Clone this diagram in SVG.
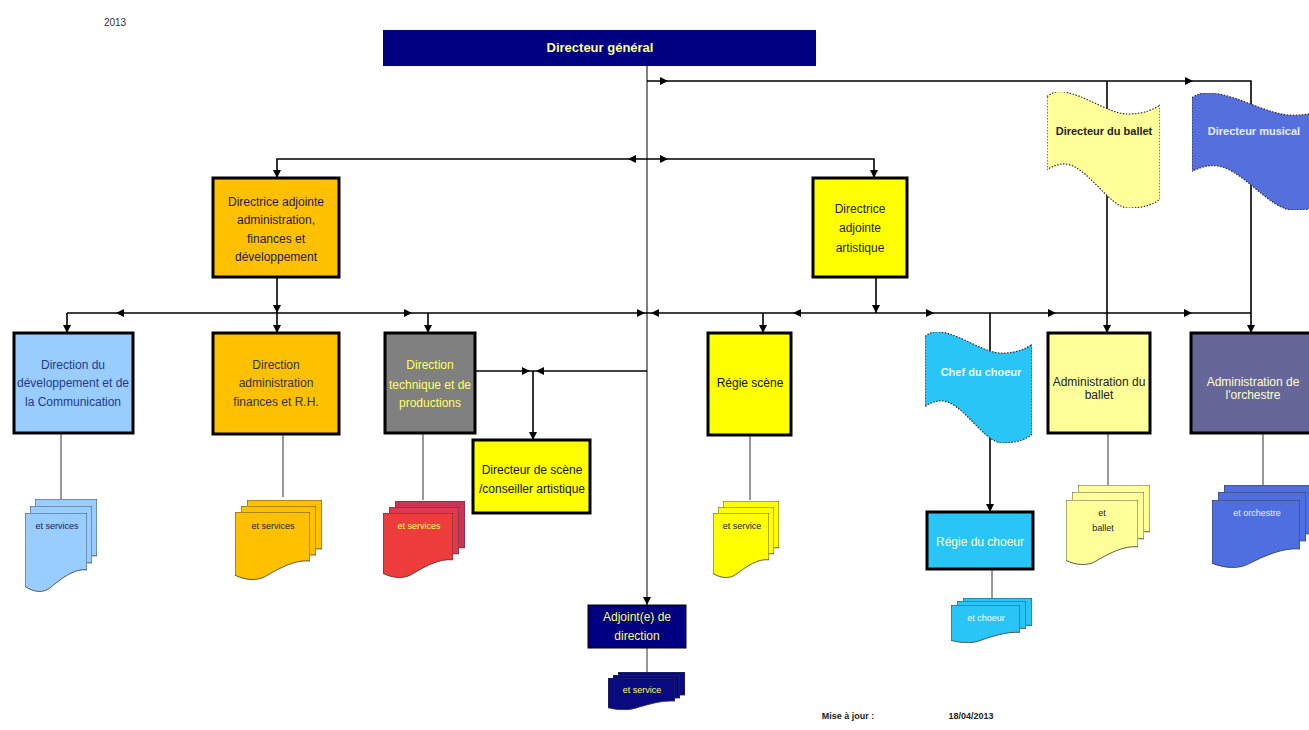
<svg xmlns="http://www.w3.org/2000/svg" xmlns:xlink="http://www.w3.org/1999/xlink" width="1309" height="730" viewBox="0 0 1309 730">
<style>
text{font-family:"Liberation Sans Narrow","Liberation Sans",Arial,sans-serif;text-anchor:middle}
.lbl{font-size:12px}
.b{font-weight:bold}
.box{stroke:#000;stroke-width:3}
.ln{stroke:#000;stroke-width:1.6;fill:none}
.thin{stroke:#333;stroke-width:1;fill:none}
.main{stroke:#7f7f7f;stroke-width:2;fill:none}
.doc{stroke:#333;stroke-width:0.8}
.flag{stroke:#333;stroke-width:1.2;stroke-dasharray:1.5 1.5}
.st{font-size:9px}
</style>
<defs>
<path id="ar" d="M0,0 L-8,-4 L-8,4 Z" fill="#000"/>
<symbol id="doc" viewBox="0 0 100 100" preserveAspectRatio="none">
<path vector-effect="non-scaling-stroke" d="M0,0 H100 V72 C80,70 60,82 40,95 C30,101 15,101 0,93 Z"/>
</symbol>
<symbol id="flag" viewBox="0 0 100 100" preserveAspectRatio="none">
<path vector-effect="non-scaling-stroke" d="M0,4 C5,0 10,-1 15,0 C35,3 55,19 72,19 C85,19 95,15 100,11 V92 C95,97 85,100 72,100 C55,100 35,62 15,62 C10,62 5,64 0,67 Z"/>
</symbol>
</defs>
<rect width="1309" height="730" fill="#fff"/>
<text x="115" y="26" style="font-size:10px;font-family:'Liberation Sans',Arial,sans-serif" fill="#333">2013</text>

<g id="connectors">
<line class="main" x1="647" y1="66" x2="647" y2="605"/>
<polyline class="ln" points="647,81 1251,81 1251,333"/>
<line class="ln" x1="1107" y1="81" x2="1107" y2="333"/>
<polyline class="ln" points="277,178 277,159 874,159 874,178"/>
<line class="ln" x1="277" y1="277" x2="277" y2="333"/>
<line class="ln" x1="876" y1="277" x2="876" y2="313"/>
<line class="ln" x1="67" y1="313" x2="1251" y2="313"/>
<line class="ln" x1="67" y1="313" x2="67" y2="333"/>
<line class="ln" x1="428" y1="313" x2="428" y2="333"/>
<line class="ln" x1="763" y1="313" x2="763" y2="333"/>
<line class="ln" x1="990" y1="313" x2="990" y2="512"/>
<line class="ln" x1="475" y1="371" x2="647" y2="371"/>
<line class="ln" x1="533" y1="371" x2="533" y2="440"/>
<line class="thin" x1="61" y1="433" x2="61" y2="500"/>
<line class="thin" x1="283" y1="434" x2="283" y2="497"/>
<line class="thin" x1="423" y1="433" x2="423" y2="500"/>
<line class="thin" x1="750" y1="435" x2="750" y2="500"/>
<line class="thin" x1="1108" y1="433" x2="1108" y2="485"/>
<line class="thin" x1="1263" y1="433" x2="1263" y2="485"/>
<line class="thin" x1="647" y1="648" x2="647" y2="672"/>
<line class="thin" x1="992" y1="569" x2="992" y2="598"/>
<use href="#ar" transform="translate(668,81)"/>
<use href="#ar" transform="translate(1193,81)"/>
<use href="#ar" transform="translate(628,159) rotate(180)"/>
<use href="#ar" transform="translate(668,159)"/>
<use href="#ar" transform="translate(277,178) rotate(90)"/>
<use href="#ar" transform="translate(874,178) rotate(90)"/>
<use href="#ar" transform="translate(277,313) rotate(90)"/>
<use href="#ar" transform="translate(876,313) rotate(90)"/>
<use href="#ar" transform="translate(116,313) rotate(180)"/>
<use href="#ar" transform="translate(412,313)"/>
<use href="#ar" transform="translate(645,313)"/>
<use href="#ar" transform="translate(651,313) rotate(180)"/>
<use href="#ar" transform="translate(793,313) rotate(180)"/>
<use href="#ar" transform="translate(934,313)"/>
<use href="#ar" transform="translate(1056,313)"/>
<use href="#ar" transform="translate(1192,313)"/>
<use href="#ar" transform="translate(67,333) rotate(90)"/>
<use href="#ar" transform="translate(277,333) rotate(90)"/>
<use href="#ar" transform="translate(428,333) rotate(90)"/>
<use href="#ar" transform="translate(763,333) rotate(90)"/>
<use href="#ar" transform="translate(1107,333) rotate(90)"/>
<use href="#ar" transform="translate(1251,333) rotate(90)"/>
<use href="#ar" transform="translate(530,371)"/>
<use href="#ar" transform="translate(536,371) rotate(180)"/>
<use href="#ar" transform="translate(533,440) rotate(90)"/>
<use href="#ar" transform="translate(990,512) rotate(90)"/>
<use href="#ar" transform="translate(647,605) rotate(90)"/>
</g>

<g id="dg">
<rect x="383" y="30" width="433" height="36" fill="#000080"/>
<text x="600" y="52" class="lbl b" style="font-size:13px" fill="#ffff99">Directeur général</text>
</g>

<g id="directeur-ballet">
<use href="#flag" x="1047" y="92" width="113" height="116" fill="#ffff99" class="flag"/>
<text x="1104" y="135" class="lbl b" style="font-size:11px" fill="#222">Directeur du ballet</text>
</g>

<g id="directeur-musical">
<use href="#flag" x="1192" y="93" width="140" height="117" fill="#5570dd" class="flag" stroke="#334"/>
<text x="1254" y="135" class="lbl b" style="font-size:11px" fill="#e8ecff">Directeur musical</text>
</g>

<g id="directrice-admin">
<rect x="213" y="178" width="126" height="99" fill="#ffc000" class="box"/>
<text class="lbl" fill="#1a1a55"><tspan x="276" y="206">Directrice adjointe</tspan><tspan x="276" y="224">administration,</tspan><tspan x="276" y="243">finances et</tspan><tspan x="276" y="261">développement</tspan></text>
</g>

<g id="directrice-artistique">
<rect x="813" y="178" width="94" height="99" fill="#ffff00" class="box"/>
<text class="lbl" fill="#222"><tspan x="860" y="213">Directrice</tspan><tspan x="860" y="232">adjointe</tspan><tspan x="860" y="252">artistique</tspan></text>
</g>

<g id="direction-dev">
<rect x="14" y="333" width="119" height="100" fill="#99ccff" class="box"/>
<text class="lbl" fill="#1f3a8a"><tspan x="73" y="369">Direction  du</tspan><tspan x="73" y="387">développement et de</tspan><tspan x="73" y="406">la Communication</tspan></text>
</g>

<g id="direction-admin">
<rect x="213" y="333" width="126" height="101" fill="#ffc000" class="box"/>
<text class="lbl" fill="#333"><tspan x="276" y="369">Direction</tspan><tspan x="276" y="387">administration</tspan><tspan x="276" y="406">finances et R.H.</tspan></text>
</g>

<g id="direction-technique">
<rect x="385" y="333" width="90" height="100" fill="#808080" class="box"/>
<text class="lbl" fill="#ffff66"><tspan x="430" y="369">Direction</tspan><tspan x="430" y="389">technique et de</tspan><tspan x="430" y="407">productions</tspan></text>
</g>

<g id="directeur-scene">
<rect x="473" y="440" width="117" height="73" fill="#ffff00" class="box"/>
<text class="lbl" fill="#111"><tspan x="532" y="474">Directeur de scène</tspan><tspan x="532" y="493">/conseiller artistique</tspan></text>
</g>

<g id="regie-scene">
<rect x="708" y="333" width="83" height="102" fill="#ffff00" class="box"/>
<text x="750" y="387" class="lbl" fill="#111">Régie scène</text>
</g>

<g id="chef-choeur">
<use href="#flag" x="925" y="332" width="107" height="111" fill="#29c5f6" class="flag" stroke="#335"/>
<text x="981" y="376" class="lbl b" style="font-size:11px" fill="#e8ffff">Chef du choeur</text>
</g>

<g id="admin-ballet">
<rect x="1048" y="333" width="102" height="100" fill="#ffff99" class="box"/>
<text class="lbl" fill="#222"><tspan x="1099" y="386">Administration du</tspan><tspan x="1099" y="399">ballet</tspan></text>
</g>

<g id="admin-orchestre">
<rect x="1191" y="333" width="125" height="100" fill="#666699" class="box"/>
<text class="lbl" fill="#ffffcc"><tspan x="1253" y="386">Administration de</tspan><tspan x="1253" y="399">l'orchestre</tspan></text>
</g>

<g id="regie-choeur">
<rect x="927" y="512" width="106" height="57" fill="#29c5f6" class="box"/>
<text x="980" y="546" class="lbl" fill="#ffffcc">Régie du choeur</text>
</g>

<g id="adjoint">
<rect x="588" y="605" width="98" height="43" fill="#000080" stroke="#000" stroke-width="1"/>
<text class="lbl" fill="#ffff66"><tspan x="637" y="621">Adjoint(e) de</tspan><tspan x="637" y="640">direction</tspan></text>
</g>

<g id="services-dev">
<use href="#doc" x="35" y="499" width="62" height="79" fill="#99ccff" class="doc"/>
<use href="#doc" x="30" y="506" width="62" height="79" fill="#99ccff" class="doc"/>
<use href="#doc" x="25" y="513" width="62" height="79" fill="#99ccff" class="doc"/>
<text x="57" y="529" class="st" fill="#1a1a55">et services</text>
</g>

<g id="services-admin">
<use href="#doc" x="247" y="500" width="75" height="68" fill="#ffc000" class="doc"/>
<use href="#doc" x="241" y="506" width="75" height="68" fill="#ffc000" class="doc"/>
<use href="#doc" x="235" y="512" width="75" height="68" fill="#ffc000" class="doc"/>
<text x="273" y="529" class="st" fill="#222">et services</text>
</g>

<g id="services-technique">
<use href="#doc" x="395" y="501" width="70" height="65" fill="#cc3355" class="doc" stroke="#a33"/>
<use href="#doc" x="389" y="507" width="70" height="65" fill="#dd3a50" class="doc" stroke="#a33"/>
<use href="#doc" x="383" y="513" width="70" height="65" fill="#ee3b3b" class="doc" stroke="#a33"/>
<text x="419" y="529" class="st" fill="#ffff66">et services</text>
</g>

<g id="service-regie">
<use href="#doc" x="723" y="501" width="56" height="65" fill="#ffff00" class="doc"/>
<use href="#doc" x="718" y="507" width="56" height="65" fill="#ffff00" class="doc"/>
<use href="#doc" x="713" y="513" width="56" height="65" fill="#ffff00" class="doc"/>
<text x="742" y="529" class="st" fill="#222">et service</text>
</g>

<g id="service-adjoint">
<use href="#doc" x="618" y="672" width="67" height="32" fill="#0a0a80" class="doc"/>
<use href="#doc" x="613" y="675" width="67" height="32" fill="#0a0a80" class="doc"/>
<use href="#doc" x="608" y="678" width="67" height="32" fill="#0a0a80" class="doc"/>
<text x="642" y="693" class="st" fill="#ffff66">et service</text>
</g>

<g id="services-choeur">
<use href="#doc" x="963" y="598" width="69" height="38" fill="#29c5f6" class="doc" stroke="#1a7fb0"/>
<use href="#doc" x="957" y="601" width="69" height="38" fill="#29c5f6" class="doc" stroke="#1a7fb0"/>
<use href="#doc" x="951" y="605" width="69" height="38" fill="#29c5f6" class="doc" stroke="#1a7fb0"/>
<text x="986" y="621" class="st" fill="#f0ffff">et choeur</text>
</g>

<g id="services-ballet">
<use href="#doc" x="1078" y="485" width="72" height="65" fill="#ffff99" class="doc"/>
<use href="#doc" x="1072" y="492" width="72" height="65" fill="#ffff99" class="doc"/>
<use href="#doc" x="1066" y="500" width="72" height="65" fill="#ffff99" class="doc"/>
<text class="st" fill="#222"><tspan x="1102" y="516">et</tspan><tspan x="1103" y="531">ballet</tspan></text>
</g>

<g id="services-orchestre">
<use href="#doc" x="1224" y="485" width="88" height="68" fill="#4f6fe0" class="doc" stroke="#3850b0"/>
<use href="#doc" x="1218" y="492" width="88" height="68" fill="#4f6fe0" class="doc" stroke="#3850b0"/>
<use href="#doc" x="1212" y="500" width="88" height="68" fill="#4f6fe0" class="doc" stroke="#3850b0"/>
<text x="1257" y="516" class="st" fill="#eef">et orchestre</text>
</g>

<g id="footer">
<text x="848" y="719" class="st b" fill="#222">Mise à jour :</text>
<text x="971" y="719" class="st b" fill="#222">18/04/2013</text>
</g>
</svg>
